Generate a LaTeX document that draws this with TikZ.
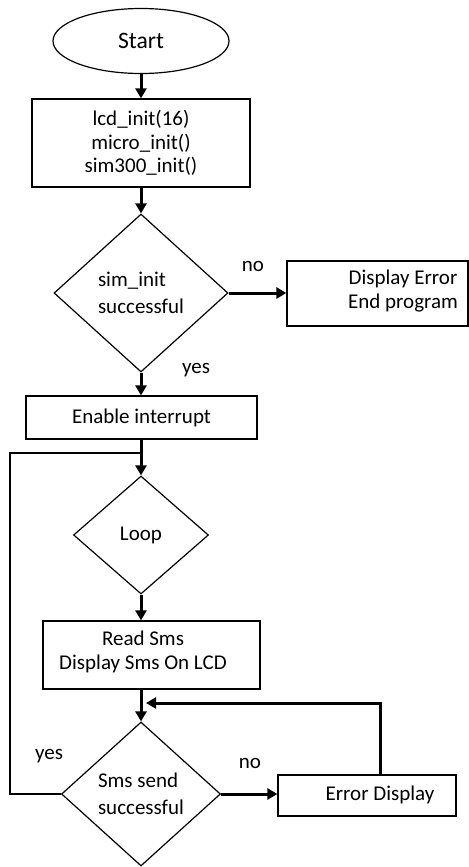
\documentclass[tikz,border=0pt]{standalone}
\usepackage{fontspec}
\setmainfont{Carlito}
\usetikzlibrary{shapes.geometric,arrows.meta}

\tikzset{
  every node/.style={font=\fontsize{10.5}{11.75}\selectfont},
  startstop/.style={draw, ellipse, line width=0.6pt, inner sep=0pt,
                    font=\fontsize{11.8}{13}\selectfont},
  procbox/.style={draw, rectangle, line width=0.6pt, inner sep=0pt, align=center},
  decision/.style={draw, diamond, line width=0.6pt, inner sep=0pt, align=left,
                   font=\fontsize{10.5}{13.5}\selectfont},
  arr/.style={-{Triangle[length=5pt,width=5.5pt]}, line width=1.5pt},
  wire/.style={line width=0.8pt}
}

\begin{document}
\begin{tikzpicture}[x=0.5pt, y=-0.5pt]
        \useasboundingbox (0,0) rectangle (469,867);

        \node[startstop, minimum width=88pt, minimum height=32.5pt] (start) at (141,41) {Start};
        \node[procbox, minimum width=109pt, minimum height=44pt] (init) at (141,143) {lcd\_init(16)\\micro\_init()\\sim300\_init()};
        \node[decision, minimum width=87pt, minimum height=79pt] (siminit) at (141,293) {sim\_init\\successful};
        \node[procbox, minimum width=90.5pt, minimum height=32.5pt] (errend) at (377.5,293.5) {};
        \node[align=center] (errendtxt) at (403,291) {Display Error\\End program};
        \node[procbox, minimum width=115.5pt, minimum height=21.5pt] (enable) at (141.5,417.5) {Enable interrupt};
        \node[decision, minimum width=67.5pt, minimum height=59pt] (loop) at (141,535) {Loop};
        \node[procbox, minimum width=108.5pt, minimum height=34pt] (read) at (151.5,655) {};
        \node[align=center] (readtxt) at (143,652) {Read Sms\\Display Sms On LCD};
        \node[decision, minimum width=79.5pt, minimum height=72pt] (sms) at (141,794) {Sms send\\successful};
        \node[procbox, minimum width=89pt, minimum height=20.5pt] (errdisp) at (367,795.5) {};
        \node (errdisptxt) at (380,795) {Error Display};

        \node (no1) at (253,266) {no};
        \node (yes1) at (196,370) {yes};
        \node (yes2) at (49,756) {yes};
        \node (no2) at (250,763) {no};

        \coordinate (back) at (10,453);
        \coordinate (fb) at (380,703);

        \draw[arr] (start) -- (init);
        \draw[arr] (init) -- (siminit);
        \draw[arr] (siminit.east) -- (siminit.east -| errend.west);
        \draw[arr] (siminit) -- (enable.north -| siminit);
        \draw[arr] (enable.south -| loop) -- (loop.north);
        \draw[arr] (loop.south) -- (loop.south |- read.north);
        \draw[arr] (sms.north |- read.south) -- (sms.north);
        \draw[arr] (sms.east) -- (sms.east -| errdisp.west);
        \draw[arr] (errdisp.north -| fb) -- (fb) -- ([xshift=2.5pt]sms.north |- fb);
        \draw[wire] (sms.west) -- (sms.west -| back) -- (back) -- (loop.north |- back);
\end{tikzpicture}
\end{document}
